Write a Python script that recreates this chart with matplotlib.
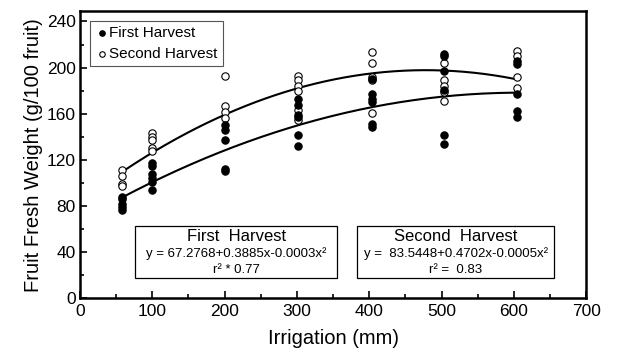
import numpy as np
import matplotlib
matplotlib.use("Agg")
import matplotlib.pyplot as plt
from matplotlib.patches import Rectangle
from matplotlib.ticker import MultipleLocator

plt.rcParams['font.family'] = ['Liberation Sans', 'DejaVu Sans']

# irrigation levels (mm) and measured weights per level
levels = [58, 100, 200, 302, 404, 504, 605]
first_vals = [
    [88, 86, 82, 79, 77],
    [117.5, 114.5, 108, 104.5, 101, 94],
    [150, 146, 137, 112.5, 110.5],
    [173, 167.5, 159, 157, 141.5, 132],
    [190.5, 177, 173, 170, 151.5, 148.5],
    [212, 210, 197, 181, 142, 133.5],
    [205.5, 203.5, 177, 162.5, 157],
]
second_vals = [
    [111.5, 106, 99.5, 97],
    [143, 140, 137, 130, 128],
    [193, 166.5, 161.5, 156.5],
    [192.5, 189.5, 184.5, 180, 163, 155],
    [213.5, 204, 192, 189, 160.5],
    [204, 189, 184.5, 179, 171],
    [214, 210, 192, 182.5],
]

# fitted curve coefficients (a, b, c) as drawn
fit_first = (67.2768, 0.365, -0.0003)
fit_second = (83.5448, 0.478, -0.0005)
fit_range = (58, 605)

x1 = [lv for lv, vs in zip(levels, first_vals) for _ in vs]
y1 = [v for vs in first_vals for v in vs]
x2 = [lv for lv, vs in zip(levels, second_vals) for _ in vs]
y2 = [v for vs in second_vals for v in vs]

fig = plt.figure(figsize=(6.28, 3.57), dpi=100)
ax = fig.add_axes([0.1274, 0.164, 0.806, 0.805])

xx = np.linspace(fit_range[0], fit_range[1], 200)
for a, b, c in (fit_first, fit_second):
    ax.plot(xx, a + b * xx + c * xx ** 2, color='black', lw=1.5, zorder=2)

ax.scatter(x2, y2, s=28, facecolors='white', edgecolors='black', linewidths=0.8,
           zorder=3, label='Second Harvest')
ax.scatter(x1, y1, s=28, facecolors='black', edgecolors='black', linewidths=0.8,
           zorder=4, label='First Harvest')

ax.set_xlim(0, 700)
ax.set_ylim(0, 249)
ax.xaxis.set_major_locator(MultipleLocator(100))
ax.xaxis.set_minor_locator(MultipleLocator(50))
ax.yaxis.set_major_locator(MultipleLocator(40))
ax.yaxis.set_minor_locator(MultipleLocator(20))
ax.tick_params(which='both', direction='in', width=1.2, labelsize=12.5, colors='black')
ax.tick_params(which='major', length=5)
ax.tick_params(which='minor', length=3)
ax.tick_params(axis='x', pad=4)
ax.tick_params(axis='y', pad=3)
for sp in ax.spines.values():
    sp.set_linewidth(1.8)

ax.set_xlabel('Irrigation (mm)', fontsize=14.5, labelpad=7)
ax.set_ylabel('Fruit Fresh Weight (g/100 fruit)', fontsize=14.5, labelpad=3)

h, l = ax.get_legend_handles_labels()
leg = ax.legend(h[::-1], l[::-1], loc='upper left', bbox_to_anchor=(0.02, 0.967),
                borderaxespad=0, fontsize=11, handletextpad=0.1, handlelength=0.8,
                markerscale=0.75, fancybox=False, framealpha=1, borderpad=0.35,
                labelspacing=0.45)
leg.get_frame().set_edgecolor('#555555')
leg.get_frame().set_linewidth(0.8)

boxes = [
    (0.109, 0.508, 'First  Harvest', 'y = 67.2768+0.3885x-0.0003x\u00b2', 'r\u00b2 * 0.77'),
    (0.547, 0.937, 'Second  Harvest', 'y =  83.5448+0.4702x-0.0005x\u00b2', 'r\u00b2 =  0.83'),
]
for x0, x1b, title, eq, r2 in boxes:
    ax.add_patch(Rectangle((x0, 0.0707), x1b - x0, 0.181, transform=ax.transAxes,
                           facecolor='white', edgecolor='black', lw=0.9, zorder=5))
    cx = (x0 + x1b) / 2
    ax.text(cx, 0.214, title, transform=ax.transAxes, ha='center', va='center',
            fontsize=12, zorder=6)
    ax.text(cx, 0.155, eq, transform=ax.transAxes, ha='center', va='center',
            fontsize=9.5, zorder=6)
    ax.text(cx, 0.1, r2, transform=ax.transAxes, ha='center', va='center',
            fontsize=9.5, zorder=6)

fig.savefig('out.png', dpi=100)
